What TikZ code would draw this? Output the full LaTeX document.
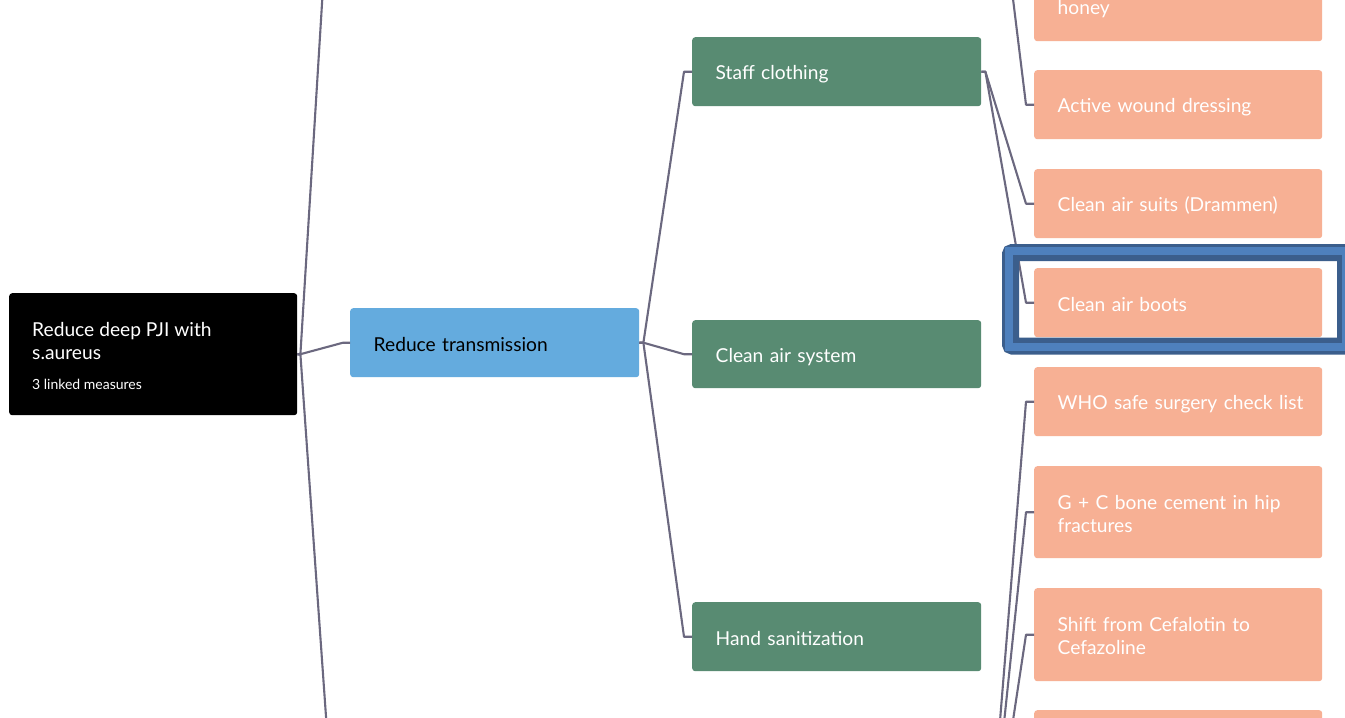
\documentclass[tikz,border=0pt]{standalone}
\usepackage{fontspec}
\setmainfont{Lato}
\newcommand{\mainsz}{\fontsize{19.2}{23}\selectfont}
\newcommand{\smallsz}{\fontsize{14}{16}\selectfont}
\newcommand{\mystrut}{\rule[-2pt]{0pt}{21pt}}
\definecolor{linec}{HTML}{6B687F}
\definecolor{rootc}{HTML}{000000}
\definecolor{bluec}{HTML}{64ABDE}
\definecolor{greenc}{HTML}{588B72}
\definecolor{orangec}{HTML}{F7B094}
\definecolor{framedark}{HTML}{3B5E8C}
\definecolor{framelight}{HTML}{4E80BD}
\tikzset{
  box/.style={rectangle, rounded corners=3pt, anchor=north west, inner xsep=23.5pt, inner ysep=0pt, align=left, font=\mainsz,
    execute at begin node=\mystrut, execute at end node=\mystrut},
  rootbox/.style={rectangle, rounded corners=3pt, anchor=north west, fill=rootc},
  bluebox/.style={box, fill=bluec, text=black, minimum width=289pt, text width=242pt},
  greenbox/.style={box, fill=greenc, text=white, minimum width=289pt, text width=242pt},
  orangebox/.style={box, fill=orangec, text=white, minimum width=288pt, text width=241pt},
  conn/.style={draw=linec, line width=2.1pt, line join=round},
  roottext/.style={anchor=base west, text=white, inner sep=0pt},
}
\begin{document}
\begin{tikzpicture}[x=1pt,y=-1pt]
\useasboundingbox (0,0) rectangle (1345,718);
\clip (0,0) rectangle (1345,718);
\fill[white] (0,0) rectangle (1345,718);

% off-picture anchors
\coordinate (sibU) at (350,-337);
\coordinate (sibD) at (350,957);
\coordinate (gU) at (981,-229);
\coordinate (gD) at (981,905);

% root
\node[rootbox, minimum width=288pt, minimum height=122pt] (root) at (9,293) {};
\node[roottext, font=\mainsz] (roott1) at (32,336) {Reduce deep PJI with};
\node[roottext, font=\mainsz] (roott2) at (32,359) {s.aureus};
\node[roottext, font=\smallsz] (roott3) at (32,389) {3 linked measures};

% level 2
\node[bluebox, minimum height=69pt] (trans) at (350,308) {Reduce transmission};

% level 3
\node[greenbox, minimum height=69pt] (staff) at (692,37) {Staff clothing};
\node[greenbox, minimum height=68pt] (air) at (692,320) {Clean air system};
\node[greenbox, minimum height=69pt] (hand) at (692,602) {Hand sanitization};

% level 4
\node[orangebox, minimum height=92pt] (honey) at (1034,-51) {\mbox{}\\honey};
\node[orangebox, minimum height=69pt] (wound) at (1034,70) {Active wound dressing};
\node[orangebox, minimum height=69pt] (suits) at (1034,169) {Clean air suits (Drammen)};
\node[orangebox, minimum height=69pt] (boots) at (1034,268) {Clean air boots};
\node[orangebox, minimum height=69pt] (who) at (1034,367) {\mbox{WHO safe surgery check list}};
\node[orangebox, minimum height=92pt] (gc) at (1034,466) {G + C bone cement in hip\\fractures};
\node[orangebox, minimum height=93pt] (shift) at (1034,588) {Shift from Cefalotin to\\Cefazoline};
\node[orangebox, minimum height=92pt] (next) at (1034,710) {};

% connectors
\draw[conn] (root.east) -- ++(3,0) -- ([xshift=-7pt]trans.west) -- (trans.west);
\draw[conn] (root.east) -- ++(3,0) -- ([xshift=-7pt]sibU) -- (sibU);
\draw[conn] (root.east) -- ++(3,0) -- ([xshift=-7pt]sibD) -- (sibD);

\draw[conn] (trans.east) -- ++(4,0) -- ([xshift=-8pt]staff.west) -- (staff.west);
\draw[conn] (trans.east) -- ++(4,0) -- ([xshift=-8pt]air.west) -- (air.west);
\draw[conn] (trans.east) -- ++(4,0) -- ([xshift=-8pt]hand.west) -- (hand.west);

\draw[conn] (staff.east) -- ++(4,0) -- ([xshift=-8pt]suits.west) -- (suits.west);
\draw[conn] (staff.east) -- ++(4,0) -- ([xshift=-8pt]boots.west) -- (boots.west);

\draw[conn] (gU) -- ++(4,0) -- ([xshift=-8pt]honey.west) -- (honey.west);
\draw[conn] (gU) -- ++(4,0) -- ([xshift=-8pt]wound.west) -- (wound.west);

\draw[conn] (gD) -- ++(4,0) -- ([xshift=-8pt]who.west) -- (who.west);
\draw[conn] (gD) -- ++(4,0) -- ([xshift=-8pt]gc.west) -- (gc.west);
\draw[conn] (gD) -- ++(4,0) -- ([xshift=-8pt]shift.west) -- (shift.west);
\draw[conn] (gD) -- ++(4,0) -- ([xshift=-8pt]next.west) -- (next.west);

% selection frame around "Clean air boots"
\draw[framedark, line width=17pt, rounded corners=2pt] (1010.5,252.5) rectangle (1345.5,346);
\draw[framelight, line width=8pt] (1009,251) rectangle (1346,346.5);
\end{tikzpicture}
\end{document}
